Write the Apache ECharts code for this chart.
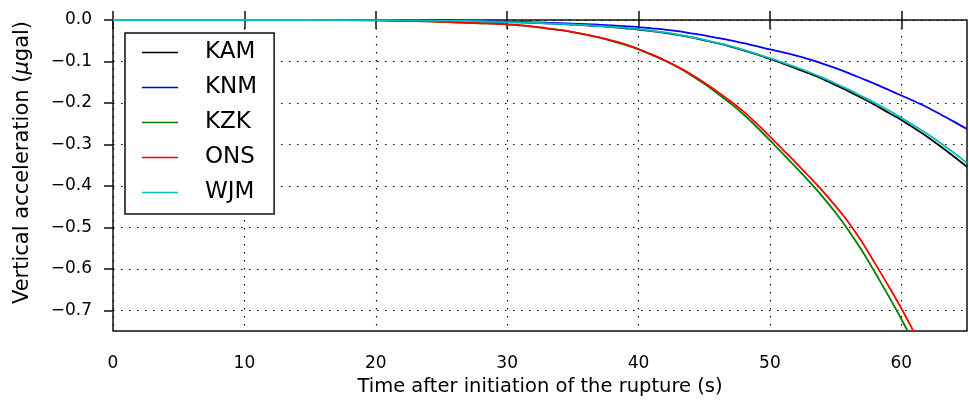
<!DOCTYPE html>
<html>
<head>
<meta charset="utf-8">
<script src="https://cdn.jsdelivr.net/npm/echarts@6/dist/echarts.min.js"></script>
<style>
  html, body { margin: 0; padding: 0; background: #fff; }
  #chart { width: 969px; height: 411px; }
</style>
</head>
<body>
<div id="chart"></div>
<script>
// Time after rupture start (s)
var times = [0, 5, 10, 15, 20, 22, 24, 26, 28, 30, 31, 32, 33, 34, 35, 36, 37, 38, 39, 40,
  41, 42, 43, 44, 45, 46, 47, 48, 49, 50, 51, 52, 53, 54, 55, 56, 57, 58, 59, 60, 61, 62, 63, 64, 65];

// Vertical acceleration (ugal) per station
var kam = [0, 0, 0, 0, -0.0003, -0.0007, -0.0013, -0.002, -0.003, -0.005, -0.0058, -0.0068, -0.008, -0.0095,
  -0.011, -0.013, -0.015, -0.017, -0.020, -0.023, -0.027, -0.031, -0.036, -0.042, -0.049, -0.056, -0.064,
  -0.073, -0.083, -0.094, -0.105, -0.117, -0.129, -0.142, -0.157, -0.172, -0.188, -0.205, -0.223, -0.241,
  -0.261, -0.282, -0.305, -0.329, -0.354];
var knm = [0, 0, 0, 0, 0, -0.0005, -0.001, -0.0015, -0.0025, -0.004, -0.0047, -0.0055, -0.0065, -0.0075,
  -0.0087, -0.010, -0.0115, -0.013, -0.015, -0.017, -0.020, -0.023, -0.027, -0.032, -0.037, -0.043, -0.049,
  -0.056, -0.063, -0.071, -0.078, -0.086, -0.095, -0.105, -0.116, -0.128, -0.141, -0.154, -0.168, -0.182,
  -0.196, -0.211, -0.228, -0.245, -0.263];
var kzk = [0, 0, 0, 0, -0.0008, -0.002, -0.0035, -0.0055, -0.0078, -0.0105, -0.013, -0.016, -0.020, -0.024,
  -0.029, -0.035, -0.042, -0.051, -0.060, -0.071, -0.084, -0.098, -0.114, -0.133, -0.154, -0.177, -0.201,
  -0.228, -0.258, -0.290, -0.323, -0.356, -0.390, -0.426, -0.465, -0.508, -0.556, -0.609, -0.664, -0.721,
  -0.783, -0.85, -0.92, -0.99, -1.06];
var ons = [0, 0, 0, 0, -0.0008, -0.002, -0.0035, -0.0055, -0.0078, -0.0105, -0.013, -0.016, -0.020, -0.024,
  -0.029, -0.035, -0.042, -0.050, -0.059, -0.070, -0.083, -0.097, -0.113, -0.131, -0.151, -0.173, -0.196,
  -0.221, -0.250, -0.281, -0.313, -0.345, -0.378, -0.412, -0.449, -0.489, -0.535, -0.587, -0.640, -0.695,
  -0.755, -0.818, -0.89, -0.96, -1.03];
var wjm = [0, 0, 0, 0, -0.0003, -0.0007, -0.0013, -0.002, -0.003, -0.005, -0.0058, -0.0067, -0.0079, -0.0093,
  -0.0108, -0.0125, -0.0145, -0.0165, -0.019, -0.022, -0.026, -0.030, -0.035, -0.041, -0.048, -0.055, -0.063,
  -0.072, -0.082, -0.092, -0.103, -0.114, -0.126, -0.139, -0.153, -0.168, -0.184, -0.200, -0.217, -0.236,
  -0.255, -0.275, -0.297, -0.320, -0.345];

var stations = ['KAM', 'KNM', 'KZK', 'ONS', 'WJM'];
var stationColors = ['#000000', '#0000ff', '#008000', '#ff0000', '#00bfbf'];
var xTicks = [0, 10, 20, 30, 40, 50, 60];
var yTicks = [0, -0.1, -0.2, -0.3, -0.4, -0.5, -0.6, -0.7];

var font = 'DejaVu Sans';
var gridDots = { color: '#000', width: 1.2, type: [1.5, 6.5] };
var tickStyle = { color: '#111', width: 1.5 };

function pairs(vals) {
  return times.map(function (t, i) { return [t, vals[i]]; });
}

function yLabel(v) {
  if (Math.abs(v) < 1e-9) return '0.0';
  return '\u2212' + Math.abs(v).toFixed(1);
}

var allValues = [kam, knm, kzk, ons, wjm];

var chart = echarts.init(document.getElementById('chart'));
chart.setOption({
  animation: false,
  textStyle: { fontFamily: font },
  grid: {
    left: 113, right: 2, top: 20, bottom: 80,
    show: true, borderColor: '#111', borderWidth: 1.5, backgroundColor: '#fff'
  },
  legend: {
    orient: 'vertical',
    left: 125, top: 33,
    data: stations,
    icon: 'rect',
    itemWidth: 36, itemHeight: 1.5,
    itemGap: 12,
    padding: [8, 17, 10, 17],
    backgroundColor: '#fff',
    borderColor: '#111', borderWidth: 1.5,
    textStyle: { fontFamily: font, fontSize: 23, color: '#000', padding: [0, 0, 0, 22], lineHeight: 23 }
  },
  xAxis: [{
    type: 'value', min: 0, max: 65,
    name: 'Time after initiation of the rupture (s)',
    nameLocation: 'middle', nameGap: 46,
    nameTextStyle: { fontFamily: font, fontSize: 19.5, color: '#000' },
    axisLine: { show: false },
    axisTick: { show: true, inside: false, length: 9, lineStyle: tickStyle, customValues: xTicks },
    axisLabel: { fontSize: 17, color: '#000', margin: 24, customValues: xTicks },
    splitLine: { show: true, lineStyle: gridDots }
  }, {
    type: 'value', min: 0, max: 65, position: 'top',
    axisLine: { show: false },
    axisTick: { show: true, inside: false, length: 9, lineStyle: tickStyle, customValues: xTicks },
    axisLabel: { show: false },
    splitLine: { show: false }
  }],
  yAxis: {
    type: 'value', min: -0.75, max: 0, splitNumber: 7,
    name: 'Vertical acceleration ({i|\u03bc}gal)',
    nameLocation: 'middle', nameGap: 80,
    nameTextStyle: {
      fontFamily: font, fontSize: 21, color: '#000', padding: [0, 0, 0, 26],
      rich: { i: { fontFamily: font, fontSize: 21, fontStyle: 'italic', color: '#000' } }
    },
    axisLine: { show: false },
    axisTick: { show: true, inside: false, length: 9, lineStyle: tickStyle, customValues: yTicks },
    axisLabel: { fontSize: 17, color: '#000', margin: 21, formatter: yLabel, customValues: yTicks },
    splitLine: { show: true, lineStyle: gridDots }
  },
  series: stations.map(function (name, i) {
    return {
      name: name,
      type: 'line',
      data: pairs(allValues[i]),
      smooth: 0.3,
      showSymbol: false,
      symbol: 'none',
      clip: true,
      color: stationColors[i],
      itemStyle: { color: stationColors[i] },
      lineStyle: { color: stationColors[i], width: 1.8 }
    };
  })
});
</script>
</body>
</html>
